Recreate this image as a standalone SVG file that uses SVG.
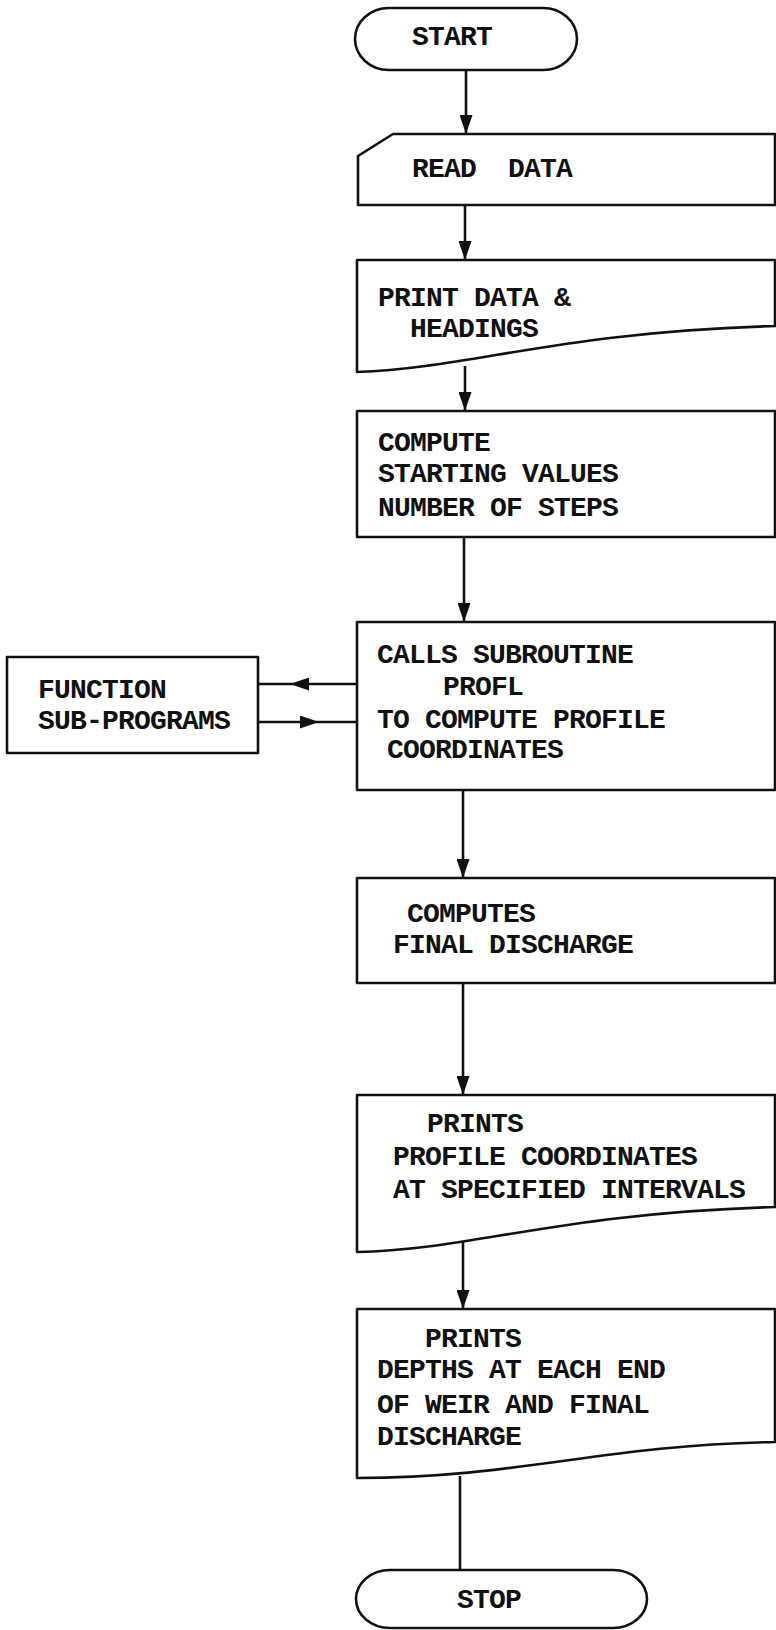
<svg xmlns="http://www.w3.org/2000/svg" width="776" height="1630" viewBox="0 0 776 1630">
<style>
.shape{fill:#fff;stroke:#111;stroke-width:2.6;stroke-linejoin:round}
.conn{fill:none;stroke:#111;stroke-width:2.6}
.t{font-family:"Liberation Mono","Courier New",monospace;font-weight:bold;font-size:28px;letter-spacing:-0.8px;fill:#111;white-space:pre}
</style>
<defs>
<marker id="ah" viewBox="0 0 19 13" refX="19" refY="6.5" markerWidth="19" markerHeight="13" markerUnits="userSpaceOnUse" orient="auto">
<path d="M0,0 L19,6.5 L0,13 Z" fill="#111"/>
</marker>
</defs>
<rect width="776" height="1630" fill="#fff"/>
<g id="connectors">
<path class="conn" d="M466,70 L466,134" marker-end="url(#ah)"/>
<path class="conn" d="M465,205 L465,260" marker-end="url(#ah)"/>
<path class="conn" d="M465,366 L465,411" marker-end="url(#ah)"/>
<path class="conn" d="M464,537 L464,622" marker-end="url(#ah)"/>
<path class="conn" d="M463,790 L463,878" marker-end="url(#ah)"/>
<path class="conn" d="M463,983 L463,1095" marker-end="url(#ah)"/>
<path class="conn" d="M463,1237 L463,1309" marker-end="url(#ah)"/>
<path class="conn" d="M460,1476 L460,1570"/>
<path class="conn" d="M357,684 L290,684 L258,684" marker-mid="url(#ah)"/>
<path class="conn" d="M258,722 L319,722 L357,722" marker-mid="url(#ah)"/>
</g>
<g id="start">
<rect class="shape" x="355" y="8" width="222" height="62" rx="34" ry="31"/>
<text class="t" x="412" y="45">START</text>
</g>
<g id="read-data">
<path class="shape" d="M393,134 L775,134 L775,205 L358,205 L358,156 Z"/>
<text class="t" x="412" y="177" xml:space="preserve">READ  DATA</text>
</g>
<g id="print-data">
<path class="shape" d="M357,260 L775,260 L775,326 C560,332 470,368 357,372 Z"/>
<text class="t" x="378" y="306" xml:space="preserve">PRINT DATA &amp;</text>
<text class="t" x="410" y="337">HEADINGS</text>
</g>
<g id="compute">
<rect class="shape" x="357" y="411" width="418" height="126"/>
<text class="t" x="378" y="451">COMPUTE</text>
<text class="t" x="378" y="482" xml:space="preserve">STARTING VALUES</text>
<text class="t" x="378" y="516" xml:space="preserve">NUMBER OF STEPS</text>
</g>
<g id="calls-subroutine">
<rect class="shape" x="357" y="622" width="418" height="168"/>
<text class="t" x="377" y="663" xml:space="preserve">CALLS SUBROUTINE</text>
<text class="t" x="443" y="695">PROFL</text>
<text class="t" x="377" y="728" xml:space="preserve">TO COMPUTE PROFILE</text>
<text class="t" x="387" y="758">COORDINATES</text>
</g>
<g id="function-subprograms">
<rect class="shape" x="7" y="657" width="251" height="96"/>
<text class="t" x="38" y="698">FUNCTION</text>
<text class="t" x="38" y="729">SUB-PROGRAMS</text>
</g>
<g id="computes">
<rect class="shape" x="357" y="878" width="418" height="105"/>
<text class="t" x="407" y="922">COMPUTES</text>
<text class="t" x="393" y="953" xml:space="preserve">FINAL DISCHARGE</text>
</g>
<g id="prints-profile">
<path class="shape" d="M357,1095 L775,1095 L775,1207 C560,1213 470,1250 357,1252 Z"/>
<text class="t" x="427" y="1132">PRINTS</text>
<text class="t" x="393" y="1165" xml:space="preserve">PROFILE COORDINATES</text>
<text class="t" x="393" y="1198" xml:space="preserve">AT SPECIFIED INTERVALS</text>
</g>
<g id="prints-depths">
<path class="shape" d="M357,1309 L775,1309 L775,1442 C600,1445 520,1478 357,1478 Z"/>
<text class="t" x="425" y="1347">PRINTS</text>
<text class="t" x="377" y="1378" xml:space="preserve">DEPTHS AT EACH END</text>
<text class="t" x="377" y="1413" xml:space="preserve">OF WEIR AND FINAL</text>
<text class="t" x="377" y="1445">DISCHARGE</text>
</g>
<g id="stop">
<rect class="shape" x="356" y="1570" width="291" height="58" rx="34" ry="29"/>
<text class="t" x="457" y="1608">STOP</text>
</g>
</svg>
